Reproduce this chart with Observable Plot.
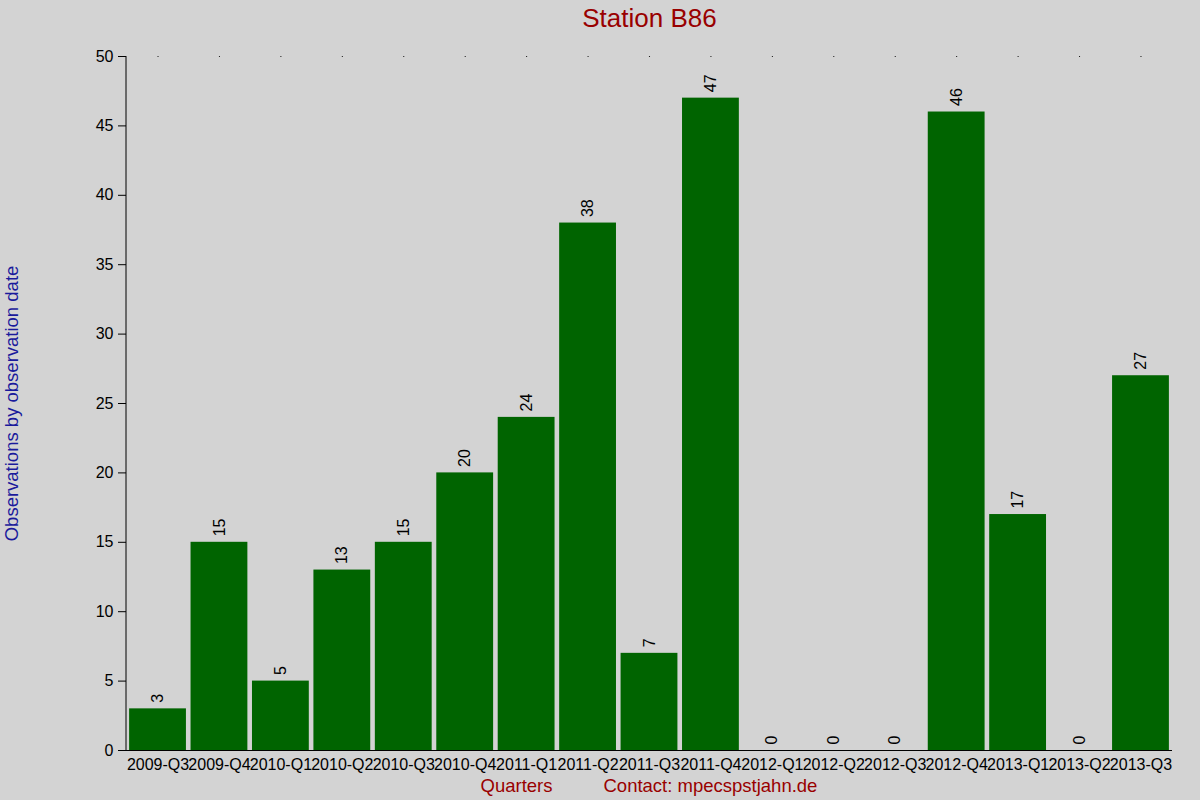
<!DOCTYPE html>
<html>
<head>
<meta charset="utf-8">
<script src="https://cdn.jsdelivr.net/npm/d3@7"></script>
<script src="https://cdn.jsdelivr.net/npm/@observablehq/plot@0.6"></script>
<style>
  html, body { margin: 0; padding: 0; background: #d3d3d3; }
  #chart svg { display: block; }
</style>
</head>
<body>
<div id="chart"></div>
<script>
const quarters = ["2009-Q3","2009-Q4","2010-Q1","2010-Q2","2010-Q3","2010-Q4","2011-Q1","2011-Q2","2011-Q3","2011-Q4","2012-Q1","2012-Q2","2012-Q3","2012-Q4","2013-Q1","2013-Q2","2013-Q3"];
const counts = [3,15,5,13,15,20,24,38,7,47,0,0,0,46,17,0,27];
const yTicks = [0,5,10,15,20,25,30,35,40,45,50];
const titleText = "Station B86";
const yLabel = "Observations by observation date";
const xLabel = "Quarters";
const contactText = "Contact: mpecspstjahn.de";

const data = quarters.map((q, i) => ({q, v: counts[i]}));

const leftLine = (index, scales, values, dims) => {
  const line = document.createElementNS("http://www.w3.org/2000/svg", "line");
  line.setAttribute("x1", dims.marginLeft);
  line.setAttribute("x2", dims.marginLeft);
  line.setAttribute("y1", dims.marginTop);
  line.setAttribute("y2", dims.height - dims.marginBottom);
  line.setAttribute("stroke", "black");
  line.setAttribute("stroke-width", 1);
  return line;
};

const chart = Plot.plot({
  width: 1200,
  height: 800,
  marginLeft: 126,
  marginRight: 28,
  marginTop: 56,
  marginBottom: 50,
  style: {background: "#d3d3d3", fontFamily: "'Liberation Sans', Arial, sans-serif", fontSize: "16px", color: "black"},
  x: {domain: quarters, padding: 0.075, round: false, range: [124.5, 1173.5], label: null},
  y: {domain: [0, 50], label: null},
  marks: [
    Plot.barY(data, {x: "q", y: "v", fill: "#006400"}),
    Plot.dot(quarters, {x: d => d, y: () => 50, r: 0.6, fill: "black", stroke: null}),
    Plot.text(data, {x: "q", y: "v", text: d => String(d.v), rotate: -90, textAnchor: "start", dy: -6, fontSize: 16, fill: "black"}),
    Plot.axisY({ticks: yTicks, tickSize: 8, tickPadding: 5, fontSize: 16, label: null}),
    Plot.axisX({tickSize: 0, tickPadding: 8, fontSize: 16, label: null}),
    Plot.ruleY([0], {stroke: "black"}),
    leftLine,
    Plot.text([titleText], {frameAnchor: "top", dy: -38, fontSize: 26, fill: "#990000", textAnchor: "middle", lineAnchor: "middle"}),
    Plot.text([yLabel], {frameAnchor: "left", dx: -114, rotate: -90, fontSize: 18.5, fill: "#1a1a9c", textAnchor: "middle", lineAnchor: "middle"}),
    Plot.text([xLabel], {frameAnchor: "bottom-left", dx: 390, dy: 36, fontSize: 18.5, fill: "#990000", textAnchor: "middle", lineAnchor: "middle"}),
    Plot.text([contactText], {frameAnchor: "bottom-left", dx: 477, dy: 36, textAnchor: "start", fontSize: 18.5, fill: "#990000", lineAnchor: "middle"})
  ]
});
document.getElementById("chart").appendChild(chart);
</script>
</body>
</html>
